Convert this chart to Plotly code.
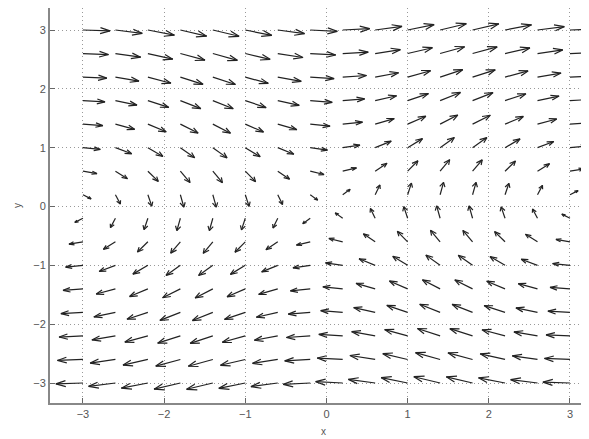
import math
import plotly.graph_objects as go

# grid of arrow tails
x_vals = [-3.0, -2.6, -2.2, -1.8, -1.4, -1.0, -0.6, -0.2, 0.2, 0.6, 1.0, 1.4, 1.8, 2.2, 2.6, 3.0]
y_vals = [3.0, 2.6, 2.2, 1.8, 1.4, 1.0, 0.6, 0.2, -0.2, -0.6, -1.0, -1.4, -1.8, -2.2, -2.6, -3.0]
# horizontal component, constant along each row
u_by_row = [3.0, 2.6, 2.2, 1.8, 1.4, 1.0, 0.6, 0.2, -0.2, -0.6, -1.0, -1.4, -1.8, -2.2, -2.6, -3.0]
# vertical component, constant along each column
v_by_col = [-0.14, -0.52, -0.81, -0.97, -0.99, -0.84, -0.56, -0.20,
            0.20, 0.56, 0.84, 0.99, 0.97, 0.81, 0.52, 0.14]

x_ticks = [-3, -2, -1, 0, 1, 2, 3]
y_ticks = [-3, -2, -1, 0, 1, 2, 3]

SCALE = 0.215
POWER = 0.4
ALPHA = 0.36
BETA = 0.42

xs, ys = [], []
for i, y0 in enumerate(y_vals):
    for j, x0 in enumerate(x_vals):
        u = u_by_row[i]
        v = v_by_col[j]
        m = math.hypot(u, v)
        L = SCALE * m ** POWER
        du = u / m * L
        dv = v / m * L
        tx, ty = x0 + du, y0 + dv
        h1x = tx - ALPHA * (du + BETA * dv)
        h1y = ty - ALPHA * (dv - BETA * du)
        h2x = tx - ALPHA * (du - BETA * dv)
        h2y = ty - ALPHA * (dv + BETA * du)
        xs += [x0, tx, None, h1x, tx, h2x, None]
        ys += [y0, ty, None, h1y, ty, h2y, None]

fig = go.Figure()
fig.add_trace(go.Scatter(x=xs, y=ys, mode="lines",
                         line=dict(color="#222222", width=1.2),
                         hoverinfo="skip", showlegend=False))

FONT = "Liberation Sans, Arial, sans-serif"
axis_font = dict(family=FONT, size=11, color="#555555")
fig.update_layout(
    width=589, height=439,
    margin=dict(l=42, r=0, t=0, b=44),
    paper_bgcolor="white", plot_bgcolor="white",
    xaxis=dict(range=[-3.406, 3.333], tickvals=x_ticks, ticks="inside", ticklen=5,
               tickcolor="#666666", showline=True, linecolor="#888888", linewidth=2,
               mirror=True, showgrid=True, gridcolor="#999999", griddash="1px,3px",
               gridwidth=1, zeroline=False, tickfont=axis_font, automargin=False,
               title=dict(text="x", font=dict(family=FONT, size=10, color="#555555"), standoff=9)),
    yaxis=dict(range=[-3.34, 3.374], tickvals=y_ticks, ticks="inside", ticklen=5,
               tickcolor="#666666", showline=True, linecolor="#888888", linewidth=2,
               showgrid=True, gridcolor="#999999", griddash="1px,3px",
               gridwidth=1, zeroline=False, tickfont=axis_font, automargin=False,
               title=dict(text="y", font=dict(family=FONT, size=10, color="#555555"), standoff=10)),
)
fig.write_html("out.html")
